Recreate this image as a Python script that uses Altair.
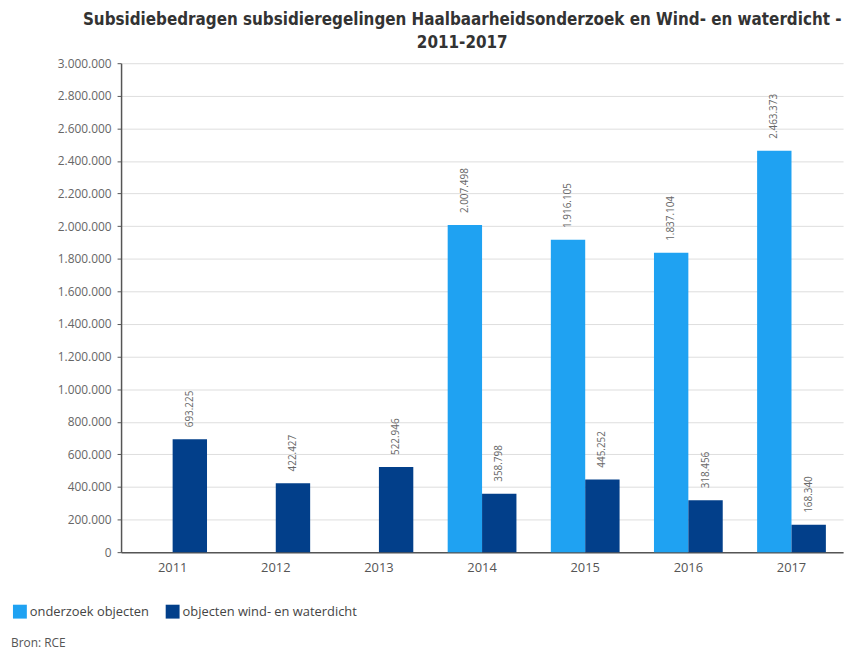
import altair as alt
import pandas as pd

years = ["2011", "2012", "2013", "2014", "2015", "2016", "2017"]
series_names = ["onderzoek objecten", "objecten wind- en waterdicht"]
onderzoek = [None, None, None, 2007498, 1916105, 1837104, 2463373]
wind_water = [693225, 422427, 522946, 358798, 445252, 318456, 168340]
colors = ["#1fa2f2", "#023f8a"]
y_ticks = list(range(0, 3000001, 200000))

rows = []
for i, y in enumerate(years):
    if onderzoek[i] is not None:
        rows.append({"year": y, "series": series_names[0], "value": onderzoek[i]})
    rows.append({"year": y, "series": series_names[1], "value": wind_water[i]})
df = pd.DataFrame(rows)

x_enc = alt.X(
    "year:N",
    sort=years,
    scale=alt.Scale(paddingInner=1 / 3, paddingOuter=1 / 6),
    axis=alt.Axis(
        title=None, labelAngle=0, ticks=False, domainColor="#555", domainWidth=1.5,
        labelColor="#555", labelFontSize=13, labelPadding=10, grid=False,
        labelFont="Open Sans",
    ),
)
xo_enc = alt.XOffset(
    "series:N", sort=series_names,
    scale=alt.Scale(domain=series_names, paddingInner=0, paddingOuter=0),
)
y_enc = alt.Y(
    "value:Q",
    scale=alt.Scale(domain=[0, 3000000], nice=False),
    axis=alt.Axis(
        title=None, values=y_ticks, labelOverlap=False, labelFlush=False,
        labelExpr="replace(format(datum.value, ','), /,/g, '.')",
        labelColor="#666", labelFontSize=12, labelFont="Open Sans", labelPadding=6,
        tickSize=4, tickColor="#555", domainColor="#555", domainWidth=1.5,
        gridColor="#dedede", gridWidth=1,
    ),
)

base = alt.Chart(df)

bars = base.mark_bar().encode(
    x=x_enc,
    xOffset=xo_enc,
    y=y_enc,
    color=alt.Color(
        "series:N",
        sort=series_names,
        scale=alt.Scale(domain=series_names, range=colors),
        legend=alt.Legend(
            title=None, orient="none", legendX=-109, legendY=546, direction="horizontal",
            symbolType="square", symbolSize=196, symbolStrokeWidth=0, symbolOpacity=1,
            labelFontSize=13, labelColor="#444", labelFont="Open Sans", labelLimit=400,
            columnPadding=16, labelOffset=3,
        ),
    ),
)

labels = base.transform_calculate(
    lbl="replace(format(datum.value, ','), /,/g, '.')"
).mark_text(
    angle=270, align="left", baseline="middle", dx=12, fontSize=10,
    color="#666", font="Open Sans",
).encode(
    x=x_enc,
    xOffset=xo_enc,
    y=y_enc,
    text="lbl:N",
)

source = alt.Chart(pd.DataFrame({"t": ["Bron: RCE"]})).mark_text(
    align="left", baseline="middle", fontSize=12, color="#555", font="Open Sans",
).encode(x=alt.value(-111), y=alt.value(585), text="t:N")

chart = alt.layer(bars, labels, source).properties(
    width=728,
    height=493,
    autosize=alt.AutoSizeParams(type="none"),
    padding={"left": 114, "top": 53, "right": 8, "bottom": 96},
    title=alt.TitleParams(
        text=["Subsidiebedragen subsidieregelingen Haalbaarheidsonderzoek en Wind- en waterdicht -", "2011-2017"],
        anchor="middle", frame="group", dx=-20, offset=5,
        font="Liberation Sans Narrow, DejaVu Sans Condensed, sans-serif",
        fontSize=17, fontWeight="bold", color="#333", lineHeight=24,
    ),
).configure_view(stroke=None)

chart.save("out.html", embed_options={"renderer": "svg", "actions": False})
